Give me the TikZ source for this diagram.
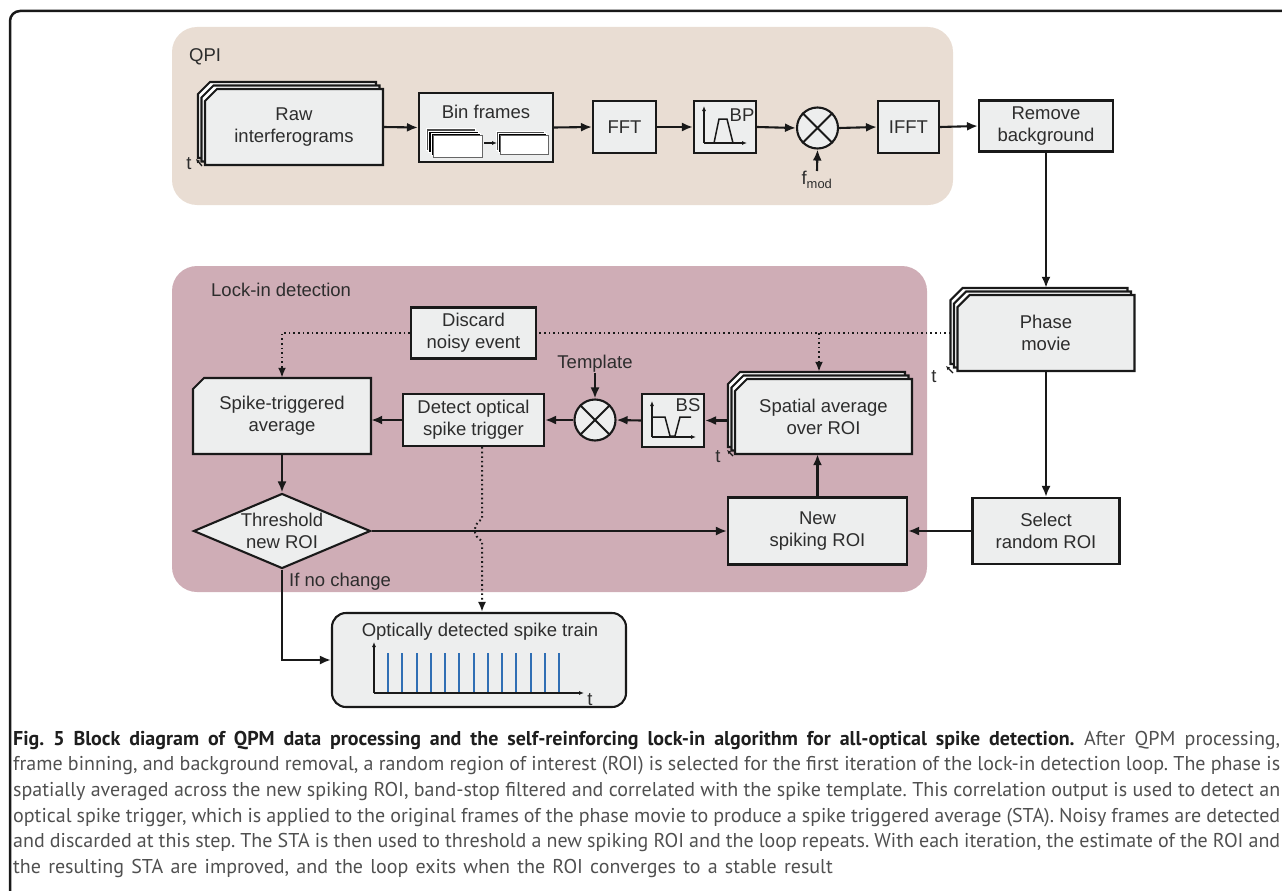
\documentclass[tikz,border=0pt]{standalone}
\usepackage{fontspec}
\setmainfont{Liberation Sans}
\newfontfamily\capfont[WordSpace=1.35]{PT Sans}
\usetikzlibrary{arrows.meta,shapes.geometric,calc}
\definecolor{qpibg}{RGB}{233,221,211}
\definecolor{lockbg}{RGB}{207,173,182}
\definecolor{boxfill}{RGB}{237,238,238}
\definecolor{txtc}{RGB}{45,45,45}
\definecolor{spikeblue}{RGB}{47,110,180}
\definecolor{capc}{RGB}{80,80,80}
\definecolor{capb}{RGB}{30,30,30}
\definecolor{lnc}{RGB}{25,25,25}
\newcommand{\dfont}{\fontsize{18.5}{22}\selectfont}
\newcommand{\chamfpath}[6][]{\filldraw[boxline,#1] ({#2+#6},{#3}) -- ({#4},{#3}) -- ({#4},{#5}) -- ({#2},{#5}) -- ({#2},{#3+#6}) -- cycle;}
\newcommand{\stackbox}[6]{%
  \chamfpath[fill=white]{#1-2*#6}{#2-2*#6}{#3-2*#6}{#4-2*#6}{#5}
  \chamfpath[fill=white]{#1-#6}{#2-#6}{#3-#6}{#4-#6}{#5}
  \chamfpath[fill=boxfill]{#1}{#2}{#3}{#4}{#5}}
\newcommand{\capline}[1]{\makebox[1267pt][s]{#1}}
\frenchspacing
\tikzset{
  boxline/.style={draw=lnc, line width=2.1pt, fill=boxfill},
  lbl/.style={align=center, text=txtc, font=\dfont, inner sep=0pt},
  box/.style={boxline, lbl, rectangle},
  arr/.style={line width=2.1pt, draw=lnc, -{Latex[length=11pt,width=9pt]}},
  tinyarr/.style={line width=1.3pt, draw=lnc, -{Latex[length=4pt,width=4pt]}},
  dotline/.style={line width=2pt, draw=lnc, dash pattern=on 1.6pt off 3pt},
  dotarr/.style={dotline, -{Latex[length=10pt,width=8pt]}},
  mult/.style={circle, draw=lnc, line width=2.1pt, fill=boxfill, minimum size=41pt, inner sep=0pt},
  inner/.style={line width=1.5pt, draw=lnc},
  capl/.style={anchor=base west, inner sep=0pt, text=capc, font=\capfont\fontsize{20}{26}\selectfont},
}
\begin{document}
\begin{tikzpicture}[x=1pt,y=-1pt]
\useasboundingbox (0,0) rectangle (1282,891);
% outer frame
\draw[line width=2.5pt, lnc, rounded corners=10pt] (10,891) -- (10,11) -- (1282,11);
% backgrounds
\fill[qpibg, rounded corners=25pt] (172,27) rectangle (953,205);
\fill[lockbg, rounded corners=25pt] (172,266) rectangle (927,592);
\node[lbl, anchor=west] (qpi) at (189,57) {QPI};
\node[lbl, anchor=west] (lockin) at (211,290) {Lock-in detection};

% ---- QPI row ----
\stackbox{205}{89}{383}{165}{12}{3.5}
\node[lbl, minimum width=178pt, minimum height=76pt] (raw) at (294,127) {Raw\\interferograms};
\node[lbl] (traw) at (189,164) {t};
\draw[tinyarr] (202,166) -- (196,159);

\node[box, minimum width=134pt, minimum height=69pt] (bin) at (486,127.5) {};
\node[lbl] (bintxt) at (486,112) {Bin frames};
% mini stacks
\foreach \o/\g in {7/70,4.7/100,2.4/130}{
  \filldraw[fill=black!\g!white, draw=white, line width=0.6pt] ({433.3-\o},{135.5-\o}) rectangle ({482.7-\o},{157.3-\o});
}
\filldraw[fill=white, draw=black!60, line width=0.8pt] (433.3,135.5) rectangle (482.7,157.3);
\foreach \o/\g in {4/70,2/110}{
  \filldraw[fill=black!\g!white, draw=white, line width=0.6pt] ({500.5-\o},{135-\o}) rectangle ({548.3-\o},{154.5-\o});
}
\filldraw[fill=white, draw=black!60, line width=0.8pt] (500.5,135) rectangle (548.3,154.5);
\draw[line width=1.2pt, lnc, -{Latex[length=5pt,width=4pt]}] (484,143) -- (497,143);

\node[box, minimum width=63pt, minimum height=52pt] (fft) at (624.5,127) {FFT};
\node[box, minimum width=62pt, minimum height=52pt] (bp) at (725,127) {};
\draw[inner, -{Latex[length=5pt,width=4pt]}] (704,143) -- (704,106);
\draw[inner, -{Latex[length=5pt,width=4pt]}] (704,143) -- (747,143);
\draw[inner] (714,143) -- (719,119) -- (727,119) -- (733,143);
\node[lbl] (bplbl) at (742,115) {BP};

\node[mult] (m1) at (817.5,128) {};
\draw[line width=2pt, lnc] (m1.north west) -- (m1.south east) (m1.north east) -- (m1.south west);
\node[lbl, anchor=north] (fmod) at (817,171) {f\textsubscript{mod}};

\node[box, minimum width=61pt, minimum height=52pt] (ifft) at (908.5,127) {IFFT};
\node[box, minimum width=134pt, minimum height=51pt] (remove) at (1046,126) {Remove\\background};

\draw[arr] (raw.east) -- (bin.west);
\draw[arr] (bin.east) -- (fft.west);
\draw[arr] (fft.east) -- (bp.west);
\draw[arr] (bp.east) -- (m1.west);
\draw[arr] (m1.east) -- (ifft.west);
\draw[arr] (ifft.east) -- (remove.west);
\draw[arr] (fmod.north) -- (m1.south);

% ---- right column ----
\stackbox{957.5}{295}{1134.5}{371}{12}{3.5}
\node[lbl, minimum width=177pt, minimum height=76pt] (phase) at (1046,333) {Phase\\movie};
\node[lbl] (tphase) at (934,377) {t};
\draw[tinyarr] (953,373) -- (946,366);
\coordinate (phasetop) at ($(phase.north)+(0,-7)$);
\coordinate (phaseback) at ($(phase.west)+(-7,0)$);
\draw[arr] (remove.south) -- (phasetop);

\node[box, minimum width=147pt, minimum height=66pt] (select) at (1046,531) {Select\\random ROI};
\draw[arr] (phase.south) -- (select.north);

% ---- lock-in loop ----
\node[box, minimum width=125pt, minimum height=51pt] (discard) at (473.5,333) {Discard\\noisy event};

\chamfpath{193}{378}{371}{454}{11}
\node[lbl, minimum width=178pt, minimum height=76pt] (sta) at (282,416) {Spike-triggered\\average};

\node[box, minimum width=141pt, minimum height=52pt] (detect) at (473.5,420) {Detect optical\\spike trigger};

\node[mult] (m2) at (595,420) {};
\draw[line width=2pt, lnc] (m2.north west) -- (m2.south east) (m2.north east) -- (m2.south west);
\node[lbl] (template) at (595,364) {Template};

\node[box, minimum width=62pt, minimum height=53pt] (bs) at (673,420.5) {};
\draw[inner, -{Latex[length=5pt,width=4pt]}] (652,437) -- (652,401);
\draw[inner, -{Latex[length=5pt,width=4pt]}] (652,437) -- (696,437);
\draw[inner] (652,417) -- (665,417) -- (670,436) -- (675,436) -- (680,417) -- (691,417);
\node[lbl] (bslbl) at (688,405) {BS};

\stackbox{735}{379}{912}{454}{12}{3.5}
\node[lbl, minimum width=177pt, minimum height=75pt] (spatial) at (823.5,416.5) {Spatial average\\over ROI};
\node[lbl] (tspatial) at (718,457) {t};
\draw[tinyarr] (733,456) -- (727,450);

\node[box, minimum width=179pt, minimum height=67pt] (newroi) at (817.5,531) {New\\spiking ROI};

\node[diamond, draw=lnc, line width=2.1pt, fill=boxfill, aspect=2.36, minimum width=177pt, minimum height=75pt, inner sep=0pt] (thr) at (282,531) {};
\node[lbl] (thrtxt) at (thr.center) {Threshold\\new ROI};
\node[lbl, anchor=west] (nochange) at (289,582) {If no change};

% spike train
\node[boxline, rounded corners=14pt, minimum width=294pt, minimum height=94pt] (train) at (479,660) {};
\node[lbl] (traintitle) at (480,632) {Optically detected spike train};
\draw[inner, -{Latex[length=5pt,width=4pt]}] (374,693) -- (374,642);
\draw[inner, -{Latex[length=5pt,width=4pt]}] (374,693) -- (584,693);
\foreach \i in {0,...,12}{ \draw[spikeblue, line width=2pt] ({388+14.25*\i},692) -- ({388+14.25*\i},653); }
\node[lbl] (ttrain) at (590,700) {t};

% connectors in loop
\draw[arr] (select.west) -- (newroi.east);
\coordinate (sptop) at ($(spatial.north)+(0,-7)$);
\draw[arr] (newroi.north) -- (newroi.north |- spatial.south);
\coordinate (spback) at ($(spatial.west |- bs.east)+(-7,0)$);
\draw[arr] (spback) -- (bs.east);
\draw[arr] (bs.west) -- (m2.east);
\draw[arr] (template.south) -- (m2.north);
\draw[arr] (m2.west) -- (detect.east);
\draw[arr] (detect.west) -- (detect.west -| sta.east);
\draw[arr] (sta.south) -- (thr.north);
\draw[arr] (thr.east) -- (newroi.west);
\draw[arr] (thr.south) |- (train.west);

% dotted
\draw[dotline] (phaseback) -- (discard.east);
\draw[dotarr] (discard.west) -| (sta.north);
\coordinate (br) at (819,333);
\draw[dotarr] (br) -- (br |- sptop);
\coordinate (d1) at ($(detect.south)+(8.5,0)$);
\draw[dotarr] (d1) -- (482,519) .. controls (473,524) and (472,536) .. (482,541) -- (d1 |- train.north);

% caption
\node[capl] (c1) at (13,745) {\capline{\textcolor{capb}{\textbf{Fig. 5 Block diagram of QPM data processing and the self-reinforcing lock-in algorithm for all-optical spike detection.}} After QPM processing,}};
\node[capl] (c2) at (13,770.7) {\capline{frame binning, and background removal, a random region of interest (ROI) is selected for the first iteration of the lock-in detection loop. The phase is}};
\node[capl] (c3) at (13,796.4) {\capline{spatially averaged across the new spiking ROI, band-stop filtered and correlated with the spike template. This correlation output is used to detect an}};
\node[capl] (c4) at (13,822.1) {\capline{optical spike trigger, which is applied to the original frames of the phase movie to produce a spike triggered average (STA). Noisy frames are detected}};
\node[capl] (c5) at (13,847.8) {\capline{and discarded at this step. The STA is then used to threshold a new spiking ROI and the loop repeats. With each iteration, the estimate of the ROI and}};
\node[capl] (c6) at (13,873.5) {the resulting STA are improved, and the loop exits when the ROI converges to a stable result};
\end{tikzpicture}
\end{document}
